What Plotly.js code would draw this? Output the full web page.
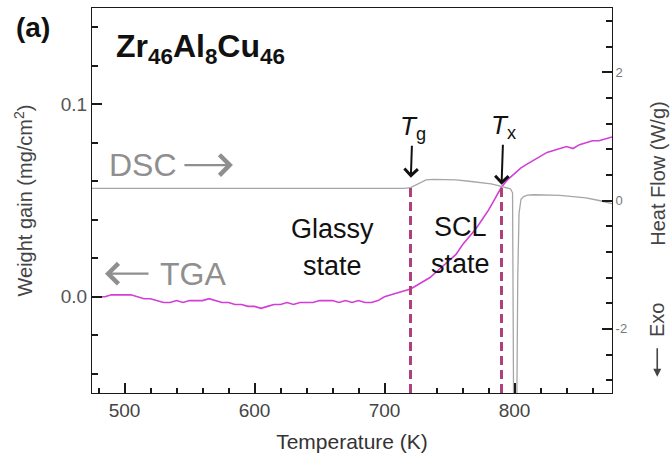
<!DOCTYPE html>
<html>
<head>
<meta charset="utf-8">
<script src="https://cdn.plot.ly/plotly-3.0.1.min.js"></script>
<style>
  html, body { margin: 0; padding: 0; background: #ffffff; }
  #chart { width: 671px; height: 458px; }
</style>
</head>
<body>
<div id="chart"></div>
<script>
// TGA: weight gain of Zr46Al8Cu46 while heating (left axis, mg/cm^2)
const tgaTemperatureK = [
  475, 480, 485, 490, 495, 500, 505, 510, 515, 520, 525, 530, 535, 540, 545,
  550, 555, 560, 565, 570, 575, 580, 585, 590, 595, 600, 605, 610, 615, 620,
  625, 630, 635, 640, 645, 650, 655, 660, 665, 670, 675, 680, 685, 690, 695,
  700, 705, 710, 715, 720, 725, 730, 735, 740, 745, 750, 755, 760, 765, 770,
  775, 780, 785, 790, 795, 800, 805, 810, 815, 820, 825, 830, 835, 840, 845,
  850, 855, 860, 865, 870, 875
];
const weightGain = [
  0.000, 0.000, 0.000, 0.001, 0.001, 0.001, 0.001, 0.000, -0.001, -0.001, -0.002, -0.003, -0.003, -0.002, -0.003,
  -0.002, -0.002, -0.002, -0.001, -0.002, -0.003, -0.003, -0.004, -0.004, -0.005, -0.005, -0.006, -0.005, -0.004, -0.004,
  -0.003, -0.004, -0.003, -0.003, -0.003, -0.002, -0.002, -0.002, -0.003, -0.002, -0.003, -0.002, -0.003, -0.003, -0.002,
  0.000, 0.001, 0.002, 0.003, 0.004, 0.006, 0.008, 0.010, 0.013, 0.016, 0.019, 0.022, 0.027, 0.031, 0.035,
  0.040, 0.045, 0.051, 0.057, 0.061, 0.064, 0.067, 0.069, 0.071, 0.073, 0.075, 0.076, 0.077, 0.078, 0.077,
  0.079, 0.080, 0.081, 0.081, 0.082, 0.083
];

// DSC: heat flow (right axis, W/g); the crystallization peak runs off scale below -3
const dscTemperatureK = [
  475, 500, 525, 550, 575, 600, 625, 650, 675, 700, 710, 715, 720, 724, 728,
  732, 738, 745, 755, 765, 775, 782, 786, 790, 794, 797, 798.5, 799.5, 801.5, 802.5,
  803.5, 805, 807, 810, 815, 825, 835, 845, 855, 865, 875
];
const heatFlow = [
  0.19, 0.19, 0.19, 0.19, 0.19, 0.185, 0.185, 0.185, 0.19, 0.19, 0.19, 0.19, 0.20, 0.24, 0.29,
  0.32, 0.33, 0.33, 0.32, 0.30, 0.28, 0.26, 0.24, 0.215, 0.20, 0.18, 0.12, -4.0, -4.0, -1.2,
  -0.2, 0.02, 0.06, 0.085, 0.09, 0.09, 0.08, 0.06, 0.04, 0.0, -0.05
];

// Characteristic temperatures (K)
const glassTransitionK = 720;
const crystallizationK = 790;

const xRange = [475, 875];
const y2TickVals = [-2, 0, 2];
const y2TickText = ['-2', '0', '2'];
const y2MinorVals = [-2.8, -2.4, -1.6, -1.2, -0.8, -0.4, 0.4, 0.8, 1.2, 1.6, 2.4, 2.8];

const FONT = 'Liberation Sans, Arial, Helvetica, DejaVu Sans, sans-serif';
const AXIS = '#1a1a1a';
const LABEL_GREY = '#8f8f8f';
const heatAt = t => heatFlow[dscTemperatureK.indexOf(t)];

const tga = {
  x: tgaTemperatureK, y: weightGain, type: 'scatter', mode: 'lines',
  line: { color: '#d23fd6', width: 1.6 }, xaxis: 'x', yaxis: 'y', hoverinfo: 'skip'
};
const dsc = {
  x: dscTemperatureK, y: heatFlow, type: 'scatter', mode: 'lines',
  line: { color: '#a6a6a6', width: 1.3 }, xaxis: 'x', yaxis: 'y2', hoverinfo: 'skip'
};

const dashLine = t => ({
  type: 'line', xref: 'x', yref: 'y2',
  x0: t, x1: t, y0: -3, y1: heatAt(t),
  line: { color: '#b0407c', width: 3, dash: '9px,5px' }
});

const markerArrow = (t, label, standoff) => ({
  x: t, y: heatAt(t), xref: 'x', yref: 'y2',
  text: '<i>T</i><sub>' + label + '</sub>',
  showarrow: true, arrowhead: 4, arrowsize: 1.3, arrowwidth: 2, arrowcolor: '#111',
  ax: 2, ay: -60, standoff: standoff,
  font: { family: FONT, size: 26, color: '#111' }
});

const textNote = (x, y, text, size, color, extra) => Object.assign({
  x: x, y: y, xref: 'paper', yref: 'paper', text: text, showarrow: false,
  font: { family: FONT, size: size, color: color }
}, extra || {});

// plain pointer arrows next to the DSC / TGA labels and under "Exo"
const pointer = (x, y, ax, ay, color, width, head, size) => ({
  x: x, y: y, xref: 'paper', yref: 'paper', text: '',
  showarrow: true, arrowhead: head, arrowsize: size, arrowwidth: width, arrowcolor: color,
  ax: ax, ay: ay
});

const layout = {
  width: 671, height: 458,
  margin: { l: 92, r: 59, t: 8, b: 65 },
  showlegend: false,
  xaxis: {
    range: xRange, dtick: 100,
    ticks: 'inside', ticklen: 10, tickwidth: 2, tickcolor: AXIS,
    minor: { dtick: 20, ticks: 'inside', ticklen: 5, tickcolor: AXIS },
    showline: true, mirror: true, linecolor: AXIS,
    showgrid: false, zeroline: false,
    tickfont: { family: FONT, size: 19, color: '#444' },
    title: { text: 'Temperature (K)', font: { family: FONT, size: 21, color: '#333' }, standoff: 14 }
  },
  yaxis: {
    range: [-0.05, 0.15], dtick: 0.1, tickformat: '.1f',
    ticks: 'inside', ticklen: 10, tickwidth: 2, tickcolor: AXIS,
    minor: { dtick: 0.02, ticks: 'inside', ticklen: 6, tickcolor: AXIS },
    showline: true, linecolor: AXIS,
    showgrid: false, zeroline: false,
    tickfont: { family: FONT, size: 19, color: '#555' },
    title: { text: 'Weight gain (mg/cm<sup>2</sup>)', font: { family: FONT, size: 20, color: '#444' }, standoff: 22 }
  },
  yaxis2: {
    overlaying: 'y', side: 'right',
    range: [-3, 3], tickvals: y2TickVals, ticktext: y2TickText,
    ticks: 'inside', ticklen: 10, tickwidth: 2, tickcolor: AXIS,
    minor: { tickvals: y2MinorVals, ticks: 'inside', ticklen: 6, tickcolor: AXIS },
    showline: true, linecolor: AXIS,
    showgrid: false, zeroline: false,
    tickfont: { family: FONT, size: 13, color: '#777' }
  },
  shapes: [dashLine(glassTransitionK), dashLine(crystallizationK)],
  annotations: [
    markerArrow(glassTransitionK, 'g', 10),
    markerArrow(crystallizationK, 'x', 2),
    textNote(-0.113, 1.0, '<b>(a)</b>', 28, '#111', { xanchor: 'center', yanchor: 'top', yshift: -2 }),
    textNote(0.042, 0.895, '<b>Zr<sub>46</sub>Al<sub>8</sub>Cu<sub>46</sub></b>', 32, '#111', { xanchor: 'left', yanchor: 'middle' }),
    textNote(0.028, 0.592, 'DSC', 32, LABEL_GREY, { xanchor: 'left', yanchor: 'middle' }),
    pointer(0.271, 0.592, -50, 0, LABEL_GREY, 2.2, 4, 1.8),
    textNote(0.2615, 0.31, 'TGA', 32, LABEL_GREY, { xanchor: 'right', yanchor: 'middle' }),
    pointer(0.025, 0.31, 45, 0, LABEL_GREY, 2.2, 4, 1.8),
    textNote(0.463, 0.425, 'Glassy', 27, '#111', { xanchor: 'center', yanchor: 'middle' }),
    textNote(0.463, 0.33, 'state', 27, '#111', { xanchor: 'center', yanchor: 'middle' }),
    textNote(0.708, 0.43, 'SCL', 27, '#111', { xanchor: 'center', yanchor: 'middle' }),
    textNote(0.708, 0.335, 'state', 27, '#111', { xanchor: 'center', yanchor: 'middle' }),
    textNote(1.087, 0.57, 'Heat Flow (W/g)', 20, '#444', { xanchor: 'center', yanchor: 'middle', textangle: -90 }),
    textNote(1.087, 0.19, 'Exo', 20, '#444', { xanchor: 'center', yanchor: 'middle', textangle: -90 }),
    pointer(1.087, 0.042, 0, -30, '#444', 1.6, 2, 1.0)
  ]
};

Plotly.newPlot('chart', [tga, dsc], layout, { displayModeBar: false });
</script>
</body>
</html>
